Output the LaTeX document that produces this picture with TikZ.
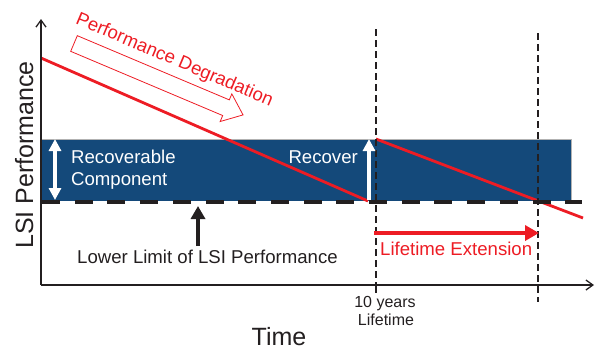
\documentclass[tikz,border=0pt]{standalone}
\usepackage{fontspec}
\setmainfont{Liberation Sans}
\usepackage{tikz}
\usetikzlibrary{arrows.meta}
\definecolor{recblue}{RGB}{20,73,122}
\definecolor{degred}{RGB}{237,28,36}
\definecolor{inkgray}{RGB}{35,31,32}

\begin{document}
\begin{tikzpicture}[x=1pt,y=-1pt]
	\useasboundingbox (0,0) rectangle (604,349);

	\coordinate (o) at (41,285);
	\coordinate (ytop) at (41,19);
	\coordinate (xend) at (594,285);

	% recoverable band
	\fill[recblue] (41,139) rectangle (571,201);
	\draw[gray!60,line width=0.7pt] (41,139) -- (571,139) -- (571,201);

	% degradation lines
	\begin{scope}[every path/.style={draw=degred,line width=2.8pt}]
		\coordinate (d0) at (41,58);
		\coordinate (d1) at (368,201);
		\coordinate (e0) at (376,139);
		\coordinate (e1) at (583,218);
		\path (d0) -- (d1);
		\path (e0) -- (e1);
	\end{scope}

	% lower limit
	\coordinate (l0) at (42,202);
	\coordinate (l1) at (582,202);
	\draw[inkgray,line width=4.6pt,dash pattern=on 18pt off 14.7pt] (l0) -- (l1);

	% axes
	\begin{scope}[draw=inkgray,line width=1.3pt,>={Straight Barb[length=7pt,width=10pt]}]
		\draw[->] (o) -- (ytop);
		\draw[->] (o) -- (xend);
	\end{scope}

	% lifetime markers
	\coordinate (t10a) at (376,29);
	\coordinate (t10b) at (376,285);
	\coordinate (t10c) at (376,293);
	\coordinate (t20a) at (538,33);
	\coordinate (t20b) at (538,302);
	\begin{scope}[inkgray,line width=1.6pt]
		\draw[dash pattern=on 6.5pt off 4.5pt] (t10a) -- (t10b);
		\draw (t10b) -- (t10c);
		\draw[dash pattern=on 6.5pt off 4.5pt] (t20a) -- (t20b);
	\end{scope}

	% arrows
	\coordinate (r0) at (55,139);
	\coordinate (r1) at (55,200);
	\coordinate (v0) at (369,200);
	\coordinate (v1) at (369,139);
	\coordinate (m0) at (198,246);
	\coordinate (m1) at (198,206);
	\coordinate (x0) at (374,233);
	\coordinate (x1) at (539,233);
	\draw[white,line width=3.5pt,{Triangle[length=12pt,width=12pt]}-{Triangle[length=12pt,width=12pt]}] (r0) -- (r1);
	\draw[white,line width=3.8pt,-{Triangle[length=12pt,width=12pt]}] (v0) -- (v1);
	\draw[inkgray,line width=4pt,-{Triangle[length=13pt,width=14pt]}] (m0) -- (m1);
	\draw[degred,line width=4.5pt,-{Triangle[length=14pt,width=15pt]}] (x0) -- (x1);

	% hollow block arrow
	\begin{scope}[shift={(74,43.5)},rotate=-22.9]
		\draw[degred,line width=0.8pt] (0,-8.5) -- (165,-8.5) -- (165,-15) -- (183.5,0)
			-- (165,15) -- (165,8.5) -- (0,8.5) -- cycle;
	\end{scope}

	% labels
	\begin{scope}[every node/.style={inner sep=0pt,text=inkgray,font=\fontsize{18.6}{22}\selectfont}]
		\node[rotate=-22.9,anchor=base,text=degred,font=\fontsize{18.5}{22}\selectfont] (deg) at (172.5,65) {Performance Degradation};
		\node[rotate=90,anchor=base,font=\fontsize{25}{30}\selectfont] (ylab) at (33,155) {LSI Performance};
		\node[anchor=base,font=\fontsize{25}{30}\selectfont] (xlab) at (279,345) {Time};
		\node[anchor=base west] (low) at (77,263) {Lower Limit of LSI Performance};
		\node[anchor=base west,text=white] (rec1) at (71,163) {Recoverable};
		\node[anchor=base west,text=white] (rec2) at (71,185) {Component};
		\node[anchor=base east,text=white] (recv) at (358,163) {Recover};
		\node[anchor=base west,text=degred] (ext) at (380,255) {Lifetime Extension};
		\node[anchor=base,font=\fontsize{16}{19}\selectfont] (yrs) at (385,307) {10 years};
		\node[anchor=base,font=\fontsize{16}{19}\selectfont] (life) at (386,325) {Lifetime};
	\end{scope}
\end{tikzpicture}
\end{document}
